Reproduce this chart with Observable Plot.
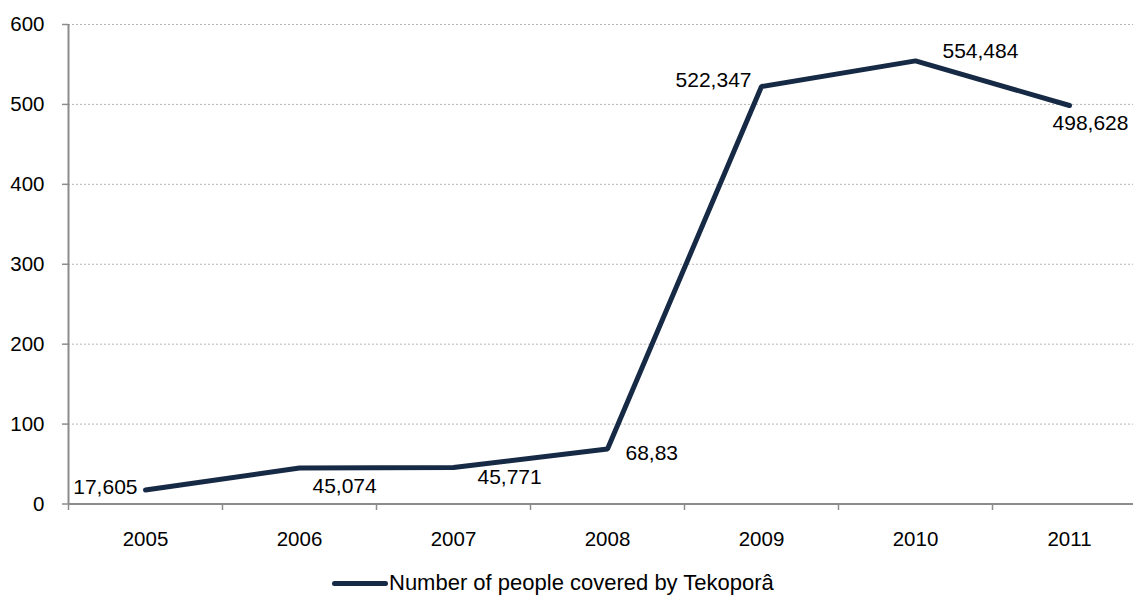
<!DOCTYPE html>
<html>
<head>
<meta charset="utf-8">
<script src="https://cdn.jsdelivr.net/npm/d3@7"></script>
<script src="https://cdn.jsdelivr.net/npm/@observablehq/plot@0.6"></script>
<style>
  html, body { margin: 0; padding: 0; background: #fff; }
  body { width: 1133px; height: 595px; overflow: hidden; font-family: "Liberation Sans", Arial, Helvetica, sans-serif; }
  #legend { position: relative; height: 27px; font-size: 22px; color: #000; }
  #legend .item { position: absolute; left: 332px; top: 2px; display: flex; align-items: center; white-space: nowrap; }
  #legend .swatch { width: 56px; height: 5px; background: #172a45; border-radius: 3px; margin-right: 1px; }
</style>
</head>
<body>
<div id="chart"></div>
<div id="legend"></div>
<script>
// ---- data ----
const years = [2005, 2006, 2007, 2008, 2009, 2010, 2011];
const people = [17.605, 45.074, 45.771, 68.83, 522.347, 554.484, 498.628]; // thousands
const seriesName = "Number of people covered by Tekoporâ";
const yTicks = [0, 100, 200, 300, 400, 500, 600];

const data = years.map((year, i) => ({year, value: people[i], label: String(people[i]).replace(".", ",")}));
const bounds = d3.range(years[0] - 0.5, years[years.length - 1] + 1, 1);

// label placement (style only)
const place = [
  {textAnchor: "end", dx: -8, dy: -3},
  {textAnchor: "start", dx: 13, dy: 18},
  {textAnchor: "start", dx: 24, dy: 10},
  {textAnchor: "start", dx: 18, dy: 4},
  {textAnchor: "end", dx: -10, dy: -6},
  {textAnchor: "start", dx: 27, dy: -10},
  {textAnchor: "middle", dx: 21, dy: 18}
];

const gray = "#8c8c8c";
const navy = "#172a45";

const plot = Plot.plot({
  width: 1133,
  height: 568,
  marginLeft: 68,
  marginRight: 0,
  marginTop: 24,
  marginBottom: 64,
  style: {fontFamily: "'Liberation Sans', Arial, Helvetica, sans-serif", fontSize: "20px", color: "#000", background: "#fff"},
  x: {domain: [bounds[0], bounds[bounds.length - 1]], range: [68, 1146]},
  y: {domain: [0, 600], range: [503.5, 24]},
  marks: [
    Plot.gridY(yTicks.filter(d => d > 0), {stroke: "#b5b5b5", strokeOpacity: 1, strokeDasharray: "2,2", strokeWidth: 1}),
    Plot.axisY(yTicks, {tickSize: 6, tickPadding: 18, stroke: gray, strokeWidth: 1.5, fontSize: 20.5, fill: "#000", label: null}),
    Plot.axisX(bounds, {tickSize: 6, tickFormat: () => "", stroke: gray, strokeWidth: 1.5, label: null}),
    Plot.axisX(years, {tickSize: 0, tickPadding: 27, tickFormat: d => String(d), fontSize: 20.5, fill: "#000", label: null}),
    Plot.ruleX([bounds[0]], {y1: 0, y2: 600, stroke: gray, strokeWidth: 2}),
    Plot.ruleY([0], {stroke: gray, strokeWidth: 2}),
    Plot.line(data, {x: "year", y: "value", stroke: navy, strokeWidth: 5, strokeLinejoin: "miter", strokeLinecap: "round"}),
    ...data.map((d, i) => Plot.text([d], {x: "year", y: "value", text: "label", fill: "#000", fontSize: 21, ...place[i]}))
  ]
});
document.getElementById("chart").appendChild(plot);

const legend = document.getElementById("legend");
legend.innerHTML = `<div class="item"><span class="swatch"></span><span></span></div>`;
legend.querySelector(".item span:last-child").textContent = seriesName;
</script>
</body>
</html>
